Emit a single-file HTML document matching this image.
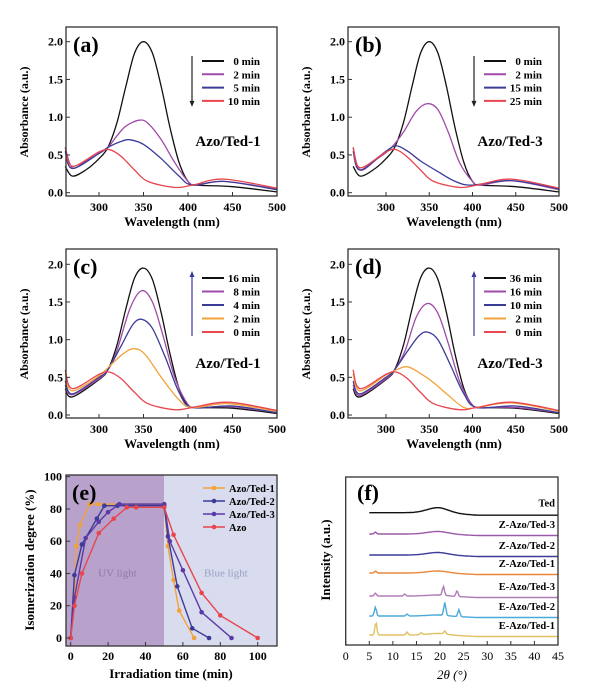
<!DOCTYPE html>
<html><head><meta charset="utf-8"><style>
body{margin:0;background:#fff}
svg{display:block;font-family:"Liberation Serif",serif;font-weight:bold}
</style></head><body>
<svg id="s" width="600" height="700" viewBox="0 0 600 700"></svg>
<script>
// ---- spectra data [wavelength, absorbance] ----
const aLabels=["0 min","2 min","5 min","10 min"];
const a0=[[262,0.35],[270,0.22],[285,0.3],[300,0.45],[310,0.6],[320,0.92],[330,1.4],[340,1.85],[350,2.0],[360,1.85],[370,1.4],[380,0.85],[390,0.4],[400,0.15],[410,0.1],[450,0.08],[500,0.01]];
const a2=[[262,0.6],[270,0.33],[285,0.42],[300,0.52],[310,0.6],[320,0.75],[330,0.88],[345,0.96],[355,0.92],[370,0.7],[385,0.4],[400,0.15],[410,0.1],[440,0.15],[500,0.05]];
const a5=[[262,0.55],[270,0.32],[300,0.52],[310,0.6],[325,0.68],[335,0.7],[350,0.64],[370,0.45],[390,0.22],[405,0.1],[440,0.15],[500,0.04]];
const a10=[[262,0.6],[270,0.35],[300,0.54],[312,0.57],[325,0.48],[340,0.3],[355,0.15],[385,0.07],[405,0.1],[440,0.18],[500,0.06]];
const bLabels=["0 min","2 min","15 min","25 min"];
const b0=a0;
const b2=[[262,0.6],[270,0.3],[290,0.45],[305,0.58],[320,0.8],[335,1.08],[348,1.18],[360,1.1],[372,0.8],[385,0.4],[400,0.15],[410,0.1],[445,0.16],[500,0.04]];
const b15=[[262,0.55],[270,0.3],[300,0.55],[312,0.62],[325,0.55],[340,0.42],[360,0.28],[380,0.15],[400,0.1],[445,0.16],[500,0.05]];
const b25=[[262,0.6],[270,0.33],[300,0.54],[312,0.57],[325,0.47],[340,0.3],[355,0.15],[385,0.07],[405,0.1],[445,0.18],[500,0.06]];
const cLabels=["16 min","8 min","4 min","2 min","0 min"];
const c16=[[262,0.35],[270,0.24],[300,0.47],[310,0.6],[320,0.92],[330,1.4],[340,1.82],[350,1.95],[360,1.8],[370,1.35],[380,0.8],[390,0.35],[400,0.13],[410,0.1],[450,0.09],[500,0.02]];
const c8=[[262,0.4],[270,0.27],[300,0.48],[310,0.6],[320,0.85],[335,1.42],[348,1.65],[360,1.5],[372,1.05],[385,0.5],[400,0.14],[410,0.1],[450,0.11],[500,0.03]];
const c4=[[262,0.45],[270,0.28],[300,0.5],[310,0.6],[325,0.92],[338,1.2],[348,1.27],[360,1.15],[375,0.75],[390,0.3],[405,0.1],[450,0.12],[500,0.03]];
const c2=[[262,0.55],[270,0.32],[300,0.52],[312,0.65],[328,0.82],[340,0.88],[352,0.8],[370,0.5],[390,0.2],[405,0.1],[445,0.15],[500,0.05]];
const c0=[[262,0.6],[270,0.35],[300,0.54],[312,0.57],[325,0.48],[340,0.3],[355,0.15],[385,0.07],[405,0.1],[445,0.17],[500,0.06]];
const dLabels=["36 min","16 min","10 min","2 min","0 min"];
const d36=c16;
const d16=[[262,0.4],[270,0.26],[300,0.48],[310,0.6],[322,0.85],[335,1.3],[348,1.48],[360,1.35],[372,0.95],[385,0.45],[400,0.13],[410,0.1],[450,0.1],[500,0.03]];
const d10=[[262,0.45],[270,0.28],[300,0.5],[310,0.6],[325,0.85],[338,1.05],[348,1.1],[360,1.0],[375,0.65],[390,0.28],[405,0.1],[450,0.12],[500,0.03]];
const d2=[[262,0.55],[270,0.32],[300,0.53],[312,0.6],[325,0.64],[340,0.55],[355,0.43],[370,0.28],[390,0.1],[405,0.1],[445,0.16],[500,0.05]];
const d0=c0;
// ---- panel e data [time, degree] ----
const eNames=["Azo/Ted-1","Azo/Ted-2","Azo/Ted-3","Azo"];
const eTed1=[[0,0],[2,27],[3,57],[5,70],[10,83],[15,83],[50,83],[52,57],[55,36],[58,17],[66,0]];
const eTed2=[[0,0],[2,39],[6,58],[14,74],[18,82],[25,82],[50,82],[52,63],[57,32],[65,6],[74,0]];
const eTed3=[[0,0],[2,25],[8,62],[15,72],[20,78],[26,83],[50,83],[53,60],[60,42],[70,16],[86,0]];
const eAzo=[[0,0],[2,20],[6,40],[15,65],[23,74],[30,81],[35,81],[50,81],[55,64],[70,28],[80,14],[100,0]];
// ---- panel f data: peaks [2theta, height px] ----
const fNames=["Ted","Z-Azo/Ted-3","Z-Azo/Ted-2","Z-Azo/Ted-1","E-Azo/Ted-3","E-Azo/Ted-2","E-Azo/Ted-1"];
const fHump=[5,2.5,2.5,2,1,1,1.5];
const fPeaks=[[],[[6.3,2]],[],[[6.3,2]],[[6.3,3],[12.5,2],[20.7,9],[23.6,6]],[[6.3,9],[13,2],[21,13],[24,7]],[[6.4,13],[13,3],[16,2],[21,3]]];

const NS="http://www.w3.org/2000/svg",S=document.getElementById('s');
function el(t,a,p){const e=document.createElementNS(NS,t);for(const k in a)e.setAttribute(k,a[k]);(p||S).appendChild(e);return e}
function tx(x,y,s,o,p){const e=el('text',Object.assign({x:x,y:y},o||{}),p);e.textContent=s;return e}
function smooth(pts){let d='M'+pts[0][0].toFixed(1)+','+pts[0][1].toFixed(1);
 for(let i=0;i<pts.length-1;i++){const p0=pts[Math.max(0,i-1)],p1=pts[i],p2=pts[i+1],p3=pts[Math.min(pts.length-1,i+2)];
 const c1=[p1[0]+(p2[0]-p0[0])/6,p1[1]+(p2[1]-p0[1])/6],c2=[p2[0]-(p3[0]-p1[0])/6,p2[1]-(p3[1]-p1[1])/6];
 d+='C'+c1.map(v=>v.toFixed(1))+' '+c2.map(v=>v.toFixed(1))+' '+p2[0].toFixed(1)+','+p2[1].toFixed(1);}return d}
const BK='#111',PU='#a04aa8',BL='#3b3b98',RD='#e8454e',OR='#f2a23a';

function spectra(P){
 const g=el('g',{});
 const X=v=>P.x300+(v-300)*(P.x500-P.x300)/200, Y=v=>P.y0+(P.y2-P.y0)*v/2;
 P.series.forEach((s,i)=>{const p=el('path',{d:smooth(s.map(q=>[X(q[0]),Y(q[1])])),fill:'none',stroke:P.colors[i],'stroke-width':1.3},g);
  });
 el('rect',{x:P.bx,y:P.by,width:P.bw,height:169,fill:'none',stroke:'#333','stroke-width':1.3},g);
 [0,0.5,1,1.5,2].forEach(v=>{el('line',{x1:P.bx,x2:P.bx+4,y1:Y(v),y2:Y(v),stroke:'#333'},g);tx(P.bx-3,Y(v)+4,v.toFixed(1),{'text-anchor':'end','font-size':12},g)});
 [300,350,400,450,500].forEach(v=>{el('line',{x1:X(v),x2:X(v),y1:P.by+169,y2:P.by+165,stroke:'#333'},g);tx(X(v),P.by+184,v,{'text-anchor':'middle','font-size':12},g)});
 tx(P.bx+106,P.by+199,'Wavelength (nm)',{'text-anchor':'middle','font-size':13},g);
 tx(0,0,'Absorbance (a.u.)',{'text-anchor':'middle','font-size':12,transform:`translate(${P.bx-38},${P.by+85}) rotate(-90)`},g);
 tx(P.bx+7,P.by+25,'('+P.id+')',{'font-size':22},g);
 const n=P.labels.length, ly0=P.by+(n==4?34:29), dy=n==4?13.3:13.5;
 const ax=P.bx+126;
 const arrCol=P.up?'#3a3aa0':'#222';
 el('line',{x1:ax,x2:ax,y1:ly0-5,y2:ly0+dy*(n-1)+4,stroke:arrCol,'stroke-width':1.2},g);
 const t=P.up?ly0-7:ly0+dy*(n-1)+6;
 el('path',{d:P.up?`M${ax-2.5},${t+6}L${ax},${t}L${ax+2.5},${t+6}Z`:`M${ax-2.5},${t-6}L${ax},${t}L${ax+2.5},${t-6}Z`,fill:arrCol},g);
 P.labels.forEach((l,i)=>{const y=ly0+dy*i;const lg=el('g',{},g);
  el('line',{x1:ax+10,x2:ax+32,y1:y,y2:y,stroke:P.colors[i],'stroke-width':2},lg);tx(ax+68,y+4,l,{'text-anchor':'end','font-size':11},lg)});
 tx(P.bx+162,P.by+119,P.name,{'text-anchor':'middle','font-size':15},g);
}
spectra({id:'a',bx:66,by:27,bw:211,x300:99,x500:277,y0:192.7,y2:41.7,series:[a0,a2,a5,a10],labels:aLabels,colors:[BK,PU,BL,RD],name:'Azo/Ted-1'});
spectra({id:'b',bx:348,by:27,bw:211,x300:386,x500:559,y0:192.7,y2:41.7,series:[b0,b2,b15,b25],labels:bLabels,colors:[BK,PU,BL,RD],name:'Azo/Ted-3'});
spectra({id:'c',bx:66,by:249,bw:211,x300:99,x500:277,y0:415,y2:264.3,series:[c0,c2,c4,c8,c16].reverse(),labels:cLabels,colors:[BK,PU,BL,OR,RD],name:'Azo/Ted-1',up:1});
spectra({id:'d',bx:348,by:249,bw:211,x300:386,x500:559,y0:415,y2:264.3,series:[d0,d2,d10,d16,d36].reverse(),labels:dLabels,colors:[BK,PU,BL,OR,RD],name:'Azo/Ted-3',up:1});

// ---- panel e ----
(function(){
 const g=el('g',{});
 const X=v=>70.7+v*1.87, Y=v=>638-v*1.613;
 el('rect',{x:66,y:475,width:X(50)-66,height:171,fill:'#b8a2cb'},g);
 el('rect',{x:X(50),y:475,width:277-X(50),height:171,fill:'#d9dcee'},g);
 tx(X(25),Y(38),'UV light',{'text-anchor':'middle','font-size':11,fill:'#8d7aa6','font-weight':'normal'},g);
 tx(X(83),Y(38),'Blue light',{'text-anchor':'middle','font-size':11,fill:'#9aa0c4','font-weight':'normal'},g);
 const sets=[eTed1,eTed2,eTed3,eAzo],cols=[OR,BL,'#5a3aa8',RD];
 sets.forEach((s,i)=>{const sg=el('g',{},g);
  el('polyline',{points:s.map(p=>X(p[0])+','+Y(p[1])).join(' '),fill:'none',stroke:cols[i],'stroke-width':1.4},sg);
  s.forEach(p=>{const m=el('circle',{cx:X(p[0]),cy:Y(p[1]),r:2.3,fill:cols[i]},sg);});});
 el('rect',{x:66,y:475,width:211,height:171,fill:'none',stroke:'#333','stroke-width':1.3},g);
 [0,20,40,60,80,100].forEach(v=>{el('line',{x1:66,x2:70,y1:Y(v),y2:Y(v),stroke:'#333'},g);tx(62,Y(v)+4,v,{'text-anchor':'end','font-size':12},g);
  el('line',{x1:X(v),x2:X(v),y1:646,y2:642,stroke:'#333'},g);tx(X(v),660,v,{'text-anchor':'middle','font-size':12},g)});
 tx(171,678,'Irradiation time (min)',{'text-anchor':'middle','font-size':13},g);
 tx(0,0,'Isomerization degree (%)',{'text-anchor':'middle','font-size':13,transform:'translate(34,560) rotate(-90)'},g);
 tx(72,500,'(e)',{'font-size':22},g);
 eNames.forEach((n,i)=>{const y=488+13*i;const lg=el('g',{},g);
  el('line',{x1:203,x2:225,y1:y,y2:y,stroke:cols[i],'stroke-width':1.4},lg);el('circle',{cx:214,cy:y,r:2.3,fill:cols[i]},lg);
  tx(229,y+4,n,{'font-size':10.5},lg)});
})();

// ---- panel f ----
(function(){
 const g=el('g',{});
 const X=v=>345.7+v*(558-345.7)/45;
 const base=[512.7,534,555,573,596,616,635],cols=[BK,'#9a5aa8',BL,'#e8873a','#b07ab8','#4aaad8','#e0c060'];
 fNames.forEach((n,i)=>{const pts=[];
  for(let t=5;t<=45;t+=0.25){let v=fHump[i]*Math.exp(-Math.pow((t-19.5)/3.2,2));
   fPeaks[i].forEach(pk=>{v+=pk[1]*Math.exp(-Math.pow((t-pk[0])/0.3,2))});
   const drop=Math.max(0,Math.min(1,(t-20)/8))*(i==0?2.5:1.5);
   pts.push(X(t).toFixed(1)+','+(base[i]-v+drop).toFixed(1));}
  const p=el('polyline',{points:pts.join(' '),fill:'none',stroke:cols[i],'stroke-width':1.4},g);
  
  tx(555,base[i]-6,n,{'text-anchor':'end','font-size':10.5},g);});
 el('rect',{x:345.7,y:477,width:212.3,height:168,fill:'none',stroke:'#333','stroke-width':1.3},g);
 for(let v=0;v<=45;v+=5){el('line',{x1:X(v),x2:X(v),y1:645,y2:641,stroke:'#333'},g);tx(X(v),660,v,{'text-anchor':'middle','font-size':12,'font-weight':'normal'},g)}
 tx(452,679,'2θ (°)',{'text-anchor':'middle','font-size':13,'font-weight':'normal','font-style':'italic'},g);
 tx(0,0,'Intensity (a.u.)',{'text-anchor':'middle','font-size':13,transform:'translate(330,560) rotate(-90)'},g);
 tx(357,500,'(f)',{'font-size':22},g);
})();
</script>
</body></html>
